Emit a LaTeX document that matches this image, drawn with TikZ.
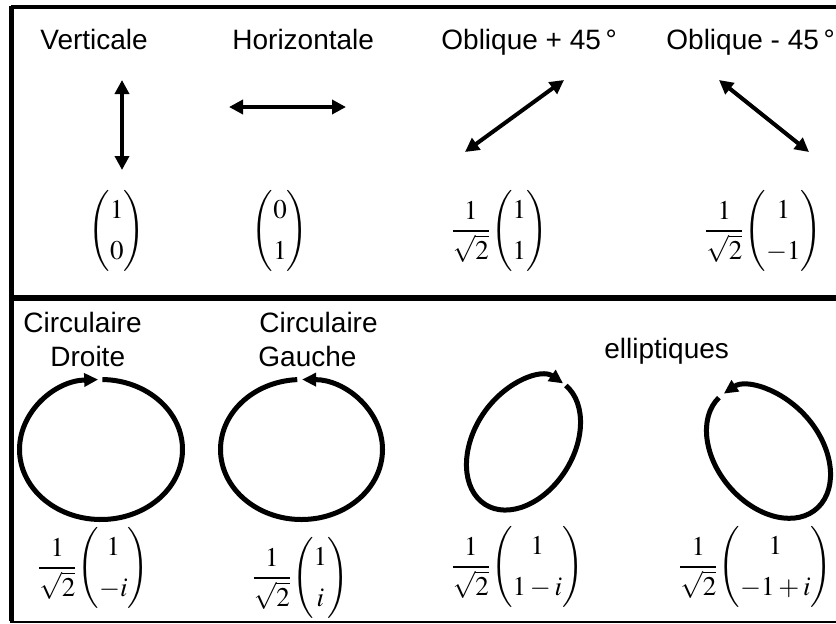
\documentclass[tikz,border=0pt]{standalone}
\usepackage{amsmath}
\usepackage{mathptmx}
\usepackage[no-math]{fontspec}
\setmainfont{Liberation Sans}
\usetikzlibrary{arrows.meta}
\tikzset{
  lbl/.style={anchor=base west, inner sep=0pt, font=\fontsize{14}{16.8}\selectfont},
  mth/.style={inner sep=0pt, font=\fontsize{13.5}{16.2}\selectfont},
  dbl/.style={line width=2pt, {Triangle[length=7pt,width=7pt]}-{Triangle[length=7pt,width=7pt]}},
  rot/.style={line width=2.5pt, -{Triangle[length=7pt,width=6.5pt]}},
}
\newcommand{\cvec}[2]{\renewcommand{\arraystretch}{1.25}\setlength{\arraycolsep}{3pt}\begin{pmatrix}#1\\#2\end{pmatrix}}
\newcommand{\isq}{\dfrac{1}{\sqrt{2}}\!}
\begin{document}
\begin{tikzpicture}[x=0.5pt,y=0.5pt]
\useasboundingbox (0,0) rectangle (836,-623);
% frame
\draw[line width=2pt] (836,-7) -- (11,-7);
\draw[line width=2.5pt] (11,-5.5) -- (11,-621);
\draw[line width=3pt] (11,-298) -- (836,-298);
\draw[line width=1pt] (9.75,-621.5) -- (836,-621.5);
% top labels
\node[lbl] (tV) at (40,-49) {Verticale};
\node[lbl] (tH) at (232,-49) {Horizontale};
\node[lbl] (tO1) at (441,-49) {Oblique + 45\,°};
\node[lbl] (tO2) at (666,-49) {Oblique - 45\,°};
% linear arrows
\coordinate (v1) at (122,-80); \coordinate (v2) at (122,-170);
\coordinate (h1) at (229,-107); \coordinate (h2) at (346,-107);
\coordinate (p1) at (465,-152); \coordinate (p2) at (564,-80);
\coordinate (q1) at (719,-80); \coordinate (q2) at (809,-152);
\draw[dbl] (v1) -- (v2);
\draw[dbl] (h1) -- (h2);
\draw[dbl] (p1) -- (p2);
\draw[dbl] (q1) -- (q2);
% top vectors
\node[mth] (m1) at (117,-231) {$\cvec{1}{0}$};
\node[mth] (m2) at (280,-231) {$\cvec{0}{1}$};
\node[mth] (m3) at (499,-231) {$\isq\cvec{1}{1}$};
\node[mth] (m4) at (763,-231) {$\isq\cvec{1}{-1}$};
% bottom labels
\node[lbl] (tC1) at (23,-332) {Circulaire};
\node[lbl] (tD) at (50,-366) {Droite};
\node[lbl] (tC2) at (259,-332) {Circulaire};
\node[lbl] (tG) at (258,-366) {Gauche};
\node[lbl] (tE) at (604,-358) {elliptiques};
% circles
\coordinate (c1) at (101,-449.5);
\coordinate (c2) at (301.5,-449.5);
\draw[rot] (c1) ++(89:81.5 and 70) arc[start angle=89, end angle=-268, x radius=81.5, y radius=70];
\draw[rot] (c2) ++(93:81 and 70) arc[start angle=93, end angle=449.6, x radius=81, y radius=70];
% ellipses
\begin{scope}[shift={(523.5,-443.5)}, rotate=58]
  \draw[rot] (-6:72 and 50) arc[start angle=-6, end angle=-362, x radius=72, y radius=50];
\end{scope}
\begin{scope}[shift={(768.5,-452.5)}, rotate=-50]
  \draw[rot] (183:74 and 52) arc[start angle=183, end angle=536, x radius=74, y radius=52];
\end{scope}
% bottom vectors
\node[mth] (b1) at (93,-568) {$\isq\cvec{1}{-i}$};
\node[mth] (b2) at (300,-578) {$\isq\cvec{1}{i}$};
\node[mth] (b3) at (517,-567) {$\isq\cvec{1}{1-i}$};
\node[mth] (b4) at (755,-567) {$\isq\cvec{1}{-1+i}$};
\end{tikzpicture}
\end{document}
